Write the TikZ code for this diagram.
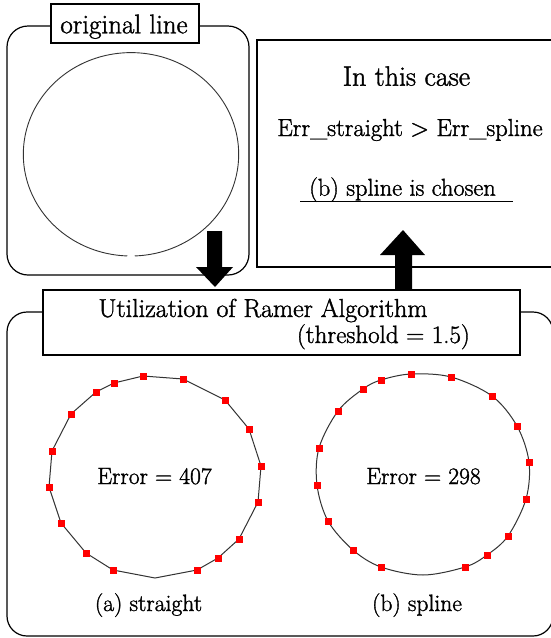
\documentclass[tikz,border=0pt]{standalone}
\usepackage{fontspec}
\setmainfont{Latin Modern Roman}[FakeBold=1.4]
\begin{document}
\begin{tikzpicture}[x=1pt,y=-1pt,
  frame/.style={draw=black, line width=1.2pt},
  lbl/.style={draw=black, line width=1.2pt, fill=white, inner sep=0pt},
  txt/.style={inner sep=0pt, anchor=base},
  mk/.style={rectangle, fill=red, minimum size=7pt, inner sep=0pt},
  curve/.style={draw=black!80, line width=1pt},
  blockarrow/.style={fill=black}]
\useasboundingbox (0,0) rectangle (551,638);
\fill[white] (0,0) rectangle (551,638);
\begin{scope}
\clip (0,0) rectangle (551,638);
% frames
\draw[frame, rounded corners=21pt] (7,26) rectangle (249,275);
\draw[frame] (257,40) rectangle (580,267);
\draw[frame, rounded corners=20pt] (7,312) rectangle (553,636);
\end{scope}

% original circle with small gap at bottom
\draw[curve, line width=0.9pt] plot[domain=92:448, samples=180, smooth] ({131+107.7*cos(\x)},{154.3+101.7*sin(\x)});

% label box
\node[lbl, minimum width=148pt, minimum height=39pt] (origbox) at (125,23.5) {};
\node[txt] (origtxt) at (124,33.3) {\fontsize{27}{27}\selectfont original line};

% right box texts
\node[txt] (case) at (406.5,85.7) {\fontsize{28}{28}\selectfont In this case};
\node[txt] (cmp) at (410,136) {\fontsize{24.6}{24.6}\selectfont Err\_straight > Err\_spline};
\node[txt] (chosen) at (402.5,195.7) {\fontsize{24.4}{24.4}\selectfont (b) spline is chosen};
\draw[line width=1.2pt] (300,201.7) -- (512.7,201.7);

% Utilization box
\node[lbl, minimum width=477pt, minimum height=65pt] (ubox) at (281.5,322.5) {};
\node[txt, anchor=base west] (util) at (98.3,317) {\fontsize{26}{26}\selectfont Utilization of Ramer Algorithm};
\node[txt, anchor=base east] (thr) at (470,343) {\fontsize{25}{25}\selectfont (threshold = 1.5)};

% block arrows
\coordinate (dtip) at (215,287);
\coordinate (utip) at (403,230);
\fill[blockarrow] (207,231) -- (222,231) -- (222,267) -- (233,267) -- (dtip) -- (196,267) -- (207,267) -- cycle;
\fill[blockarrow] (395,290) -- (412,290) -- (412,255) -- (425,255) -- (utip) -- (380,255) -- (395,255) -- cycle;

% straight polygon
\draw[curve] (143,376) -- (183,379) -- (225,400) -- (249,429) -- (261,466) -- (258,502) -- (239,539) -- (218,558) -- (197,570) -- (155,578) -- (113,570) -- (86,553) -- (61,523) -- (49,487) -- (52,451) -- (71,414) -- (96,392) -- (114,383) -- cycle;
\foreach \p [count=\i] in {(143,376),(183,379),(225,400),(249,429),(261,466),(258,502),(239,539),(218,558),(197,570),(113,570),(86,553),(61,523),(49,487),(52,451),(71,414),(96,392),(114,383)}
  \node[mk] (a\i) at \p {};

% spline curve
\draw[curve] plot[smooth cycle, tension=0.55] coordinates {(411,374) (451,377) (492,396) (517,426) (529,462) (526,499) (508,536) (487,555) (465,567) (423,575) (381,567) (353,550) (328,521) (317,485) (319,448) (338,411) (363,389) (381,380)};
\foreach \p [count=\i] in {(411,374),(451,377),(492,396),(517,426),(529,462),(526,499),(508,536),(487,555),(465,567),(381,567),(353,550),(328,521),(317,485),(319,448),(338,411),(363,389),(381,380)}
  \node[mk] (b\i) at \p {};

% texts in bottom frame
\node[txt] (err1) at (154.5,484) {\fontsize{23.6}{23.6}\selectfont Error = 407};
\node[txt] (err2) at (423.5,484) {\fontsize{23.6}{23.6}\selectfont Error = 298};
\node[txt] (capa) at (148.5,611) {\fontsize{23.6}{23.6}\selectfont (a) straight};
\node[txt] (capb) at (417,611) {\fontsize{23.6}{23.6}\selectfont (b) spline};
\end{tikzpicture}
\end{document}
